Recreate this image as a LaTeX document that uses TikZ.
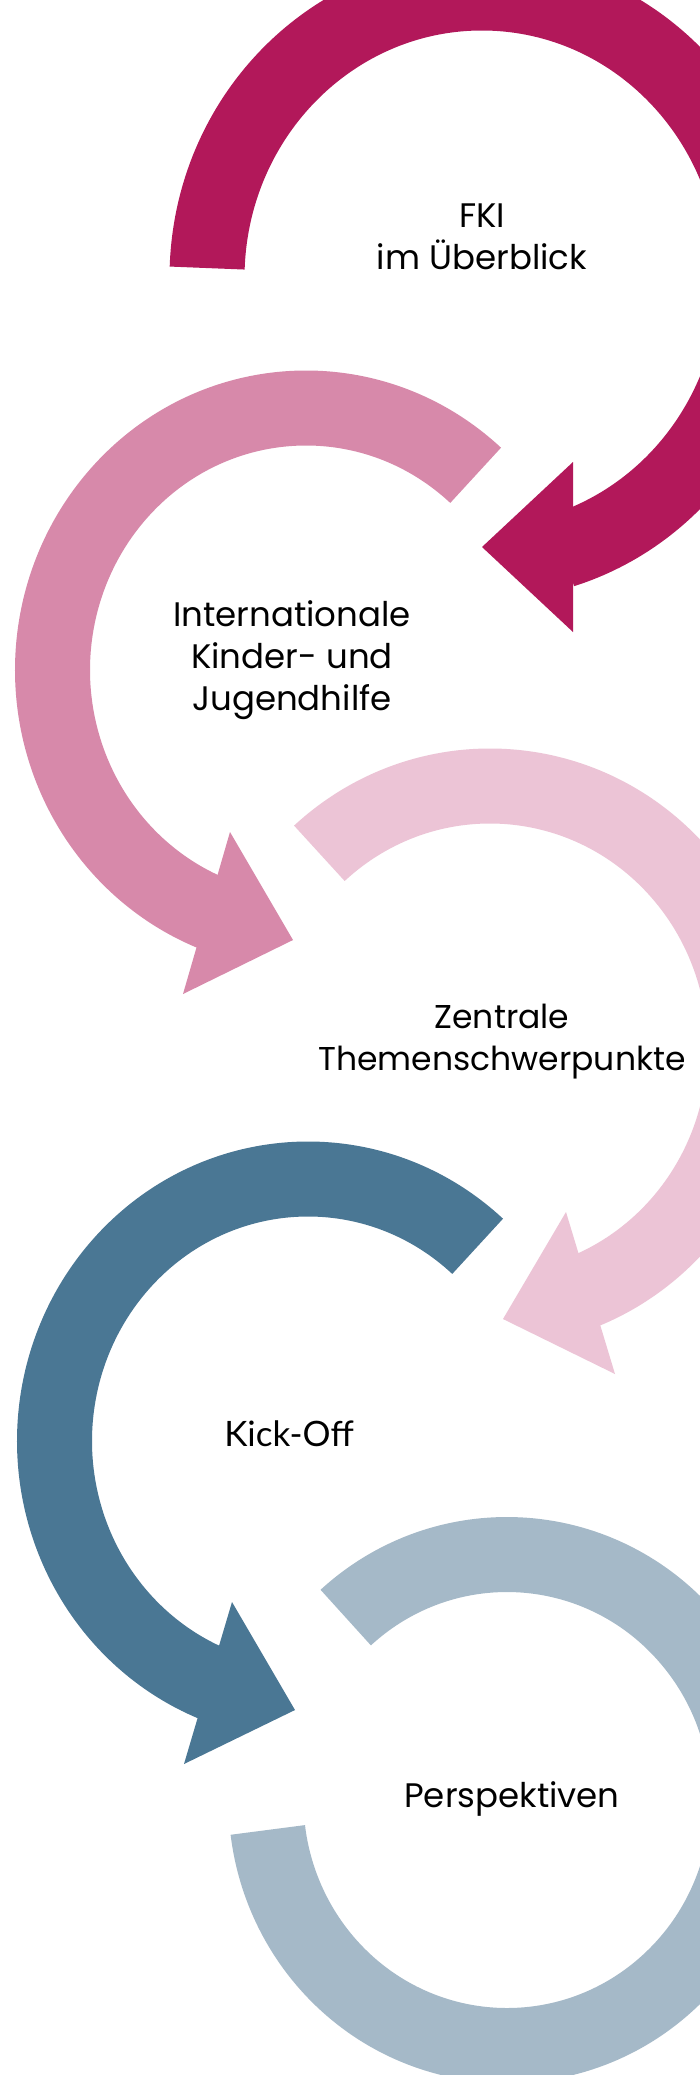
\documentclass[tikz,border=0pt]{standalone}
\usepackage{fontspec}
\setmainfont{Poppins}
\newfontfamily\kickfont{Lato}
\definecolor{fkired}{RGB}{178,24,90}
\definecolor{kjhpink}{RGB}{215,137,170}
\definecolor{themenrose}{RGB}{236,196,214}
\definecolor{kickblue}{RGB}{74,119,148}
\definecolor{perspblue}{RGB}{165,185,200}
\tikzset{
    band/.style={line width=75pt},
    lbl/.style={font=\fontsize{34}{42}\selectfont, align=center, inner sep=0pt, anchor=base}
}

\begin{document}
\begin{tikzpicture}
  [
    x = 1pt,
    y = -1pt,
  ]
  \useasboundingbox (0,0) rectangle (700,2075);
  \fill[white] (0,0) rectangle (700,2075);
  \clip (0,0) rectangle (700,2075);

  \coordinate (c1) at (482,278);
  \coordinate (c2) at (306,670);
  \coordinate (c3) at (490,1048);
  \coordinate (c4) at (308,1441);
  \coordinate (c5) at (507,1800);

  % FKI
  \draw[band, fkired] (c1) ++(182:275 and 285)
    arc[start angle=182, end angle=433, x radius=275, y radius=285];
  \fill[fkired] (573,462) -- (482,547) -- (573,632) -- cycle;

  % Kinder- und Jugendhilfe
  \draw[band, kjhpink] (c2) ++(-48:253.5 and 262)
    arc[start angle=-48, end angle=-252, x radius=253.5, y radius=262];
  \fill[kjhpink] (230,832) -- (293,940) -- (183,994) -- cycle;

  % Themen
  \draw[band, themenrose] (c3) ++(228:255 and 262)
    arc[start angle=228, end angle=432, x radius=255, y radius=262];
  \fill[themenrose] (566,1212) -- (503,1319) -- (615,1374) -- cycle;

  % Kick-Off
  \draw[band, kickblue] (c4) ++(-48:253.5 and 262)
    arc[start angle=-48, end angle=-252, x radius=253.5, y radius=262];
  \fill[kickblue] (232,1602) -- (295,1710) -- (184,1764) -- cycle;

  % Perspektiven
  \draw[band, perspblue] (c5) ++(228:241 and 245.5)
    arc[start angle=228, end angle=533, x radius=241, y radius=245.5];

  \node[lbl] (fki) at (482,269) {FKI\\im Überblick};
  \node[lbl] (kjh) at (292,710) {Internationale\\Kinder- und\\Jugendhilfe};
  \node[lbl, font=\fontsize{33}{42}\selectfont] (themen) at (502,1070) {Zentrale\\Themenschwerpunkte};
  \node[lbl, font=\kickfont\fontsize{35}{42}\selectfont] (kick) at (289,1446) {Kick-Off};
  \node[lbl] (persp) at (512,1807) {Perspektiven};
\end{tikzpicture}
\end{document}
